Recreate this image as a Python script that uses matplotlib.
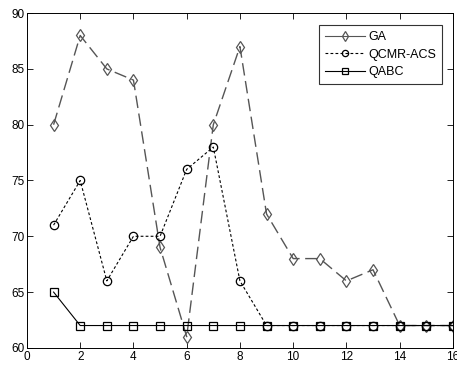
import matplotlib
matplotlib.use("Agg")
import matplotlib.pyplot as plt

x = list(range(1, 17))
ga = [80, 88, 85, 84, 69, 61, 80, 87, 72, 68, 68, 66, 67, 62, 62, 62]
qcmr = [71, 75, 66, 70, 70, 76, 78, 66, 62, 62, 62, 62, 62, 62, 62, 62]
qabc = [65, 62, 62, 62, 62, 62, 62, 62, 62, 62, 62, 62, 62, 62, 62, 62]

plt.rcParams['font.family'] = ['Liberation Sans', 'DejaVu Sans']
fig = plt.figure(figsize=(4.57, 3.65), dpi=100)
ax = fig.add_axes([0.059, 0.047, 0.932, 0.917])

l1, = ax.plot(x, ga, color='#555555', linestyle=(0, (9, 4)), linewidth=1.0,
              marker='d', markersize=6.5, markerfacecolor='none', markeredgecolor='#555555',
              markeredgewidth=0.9, label='GA')
l2, = ax.plot(x, qcmr, color='black', linestyle=(0, (2.5, 2)), linewidth=0.8,
              marker='o', markersize=6, markerfacecolor='none', markeredgecolor='black',
              markeredgewidth=0.9, label='QCMR-ACS')
l3, = ax.plot(x, qabc, color='black', linestyle='-', linewidth=0.8,
              marker='s', markersize=5.8, markerfacecolor='none', markeredgecolor='black',
              markeredgewidth=0.9, label='QABC')

ax.set_xlim(0, 16)
ax.set_ylim(60, 90)
ax.set_xticks(range(0, 17, 2))
ax.set_yticks(range(60, 91, 5))
ax.tick_params(direction='in', top=True, right=True, labelsize=8.5, length=4, width=0.6, pad=2)
for s in ax.spines.values():
    s.set_linewidth(0.7)

leg = ax.legend(handles=[l1, l2, l3], loc='upper right', fontsize=9, frameon=True,
                fancybox=False, edgecolor='#333333', framealpha=1, handlelength=3.2,
                borderpad=0.45, labelspacing=0.45, handletextpad=0.25, markerscale=0.75,
                bbox_to_anchor=(0.988, 0.982))
leg.get_frame().set_linewidth(0.8)
leg.legend_handles[0].set_linestyle('-')
leg.legend_handles[0].set_linewidth(0.8)

fig.savefig('out.png', dpi=100)
